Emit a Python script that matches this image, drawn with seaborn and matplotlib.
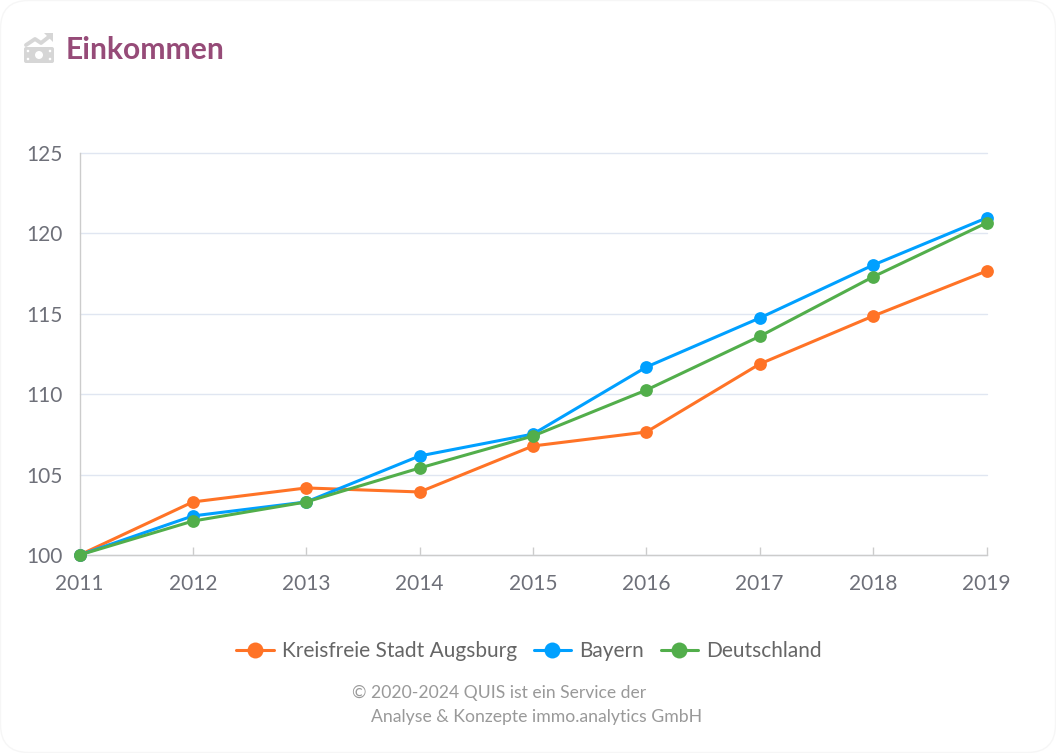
#!/usr/bin/env python3
import matplotlib
matplotlib.use('Agg')

import matplotlib.patches as patches
import matplotlib.pyplot as plt
import pandas as pd
import seaborn as sns

years = [2011, 2012, 2013, 2014, 2015, 2016, 2017, 2018, 2019]
augsburg = [100, 103.3, 104.17, 103.92, 106.78, 107.65, 111.88, 114.86, 117.66]
bayern = [100, 102.43, 103.3, 106.16, 107.52, 111.69, 114.74, 118.03, 120.96]
deutschland = [100, 102.11, 103.3, 105.41, 107.4, 110.26, 113.6, 117.3, 120.65]

series_names = ['Kreisfreie Stadt Augsburg', 'Bayern', 'Deutschland']
series_colors = ['#FF7326', '#00A0FF', '#52AE4B']
y_ticks = [100, 105, 110, 115, 120, 125]

W, H = 1056, 753

sns.set_theme(style='white')
plt.rcParams['font.family'] = ['Lato', 'DejaVu Sans']

# long table for seaborn
df = pd.DataFrame({
	'year': years * 3,
	'value': augsburg + bayern + deutschland,
	'series': [n for n in series_names for _ in years],
})

fig = plt.figure(figsize=(W / 100, H / 100), dpi=100, facecolor='white')

# faint outline of the round card
fig.add_artist(patches.FancyBboxPatch(
	(26, 26), W - 52, H - 52,
	boxstyle='round,pad=25.5,rounding_size=28', transform=None,
	facecolor='white', edgecolor='#F6F6F6', linewidth=1, zorder=-1))

ax = fig.add_axes([79.5 / W, 1 - 555 / H, 907 / W, 402 / H])
ax.patch.set_alpha(0)

sns.lineplot(
	data=df, x='year', y='value', hue='series',
	hue_order=series_names, palette=series_colors,
	marker='o', markersize=9.2, markeredgewidth=0, linewidth=2.2,
	clip_on=False, ax=ax, zorder=3)

ax.set_xlim(2011, 2019)
ax.set_ylim(100, 125)
ax.set_xticks(years)
ax.set_yticks(y_ticks)
ax.set_xlabel('')
ax.set_ylabel('')
ax.grid(axis='y', color='#E0E6F1', linewidth=1, clip_on=False)
ax.set_axisbelow(True)

for side in ['top', 'right']:
	ax.spines[side].set_visible(False)
for side in ['left', 'bottom']:
	ax.spines[side].set_color('#CCCCCC')
	ax.spines[side].set_linewidth(1)

ax.tick_params(axis='x', direction='in', length=6, width=1, color='#CCCCCC',
	labelsize=15, labelcolor='#6E7079', pad=13.5, bottom=True)
ax.tick_params(axis='y', left=False, labelsize=15, labelcolor='#6E7079', pad=6)

# legend under the plot
handles, labels = ax.get_legend_handles_labels()
leg = ax.legend(
	handles, labels, ncol=3, frameon=False, loc='center',
	bbox_to_anchor=(529 / W, 1 - 651 / H), bbox_transform=fig.transFigure,
	fontsize=15, labelcolor='#666666', columnspacing=0.8, handlelength=1.78,
	handletextpad=0.4, borderpad=0)
for h in leg.legend_handles:
	h.set_markersize(11.5)

# title and icon
fig.text(66 / W, 1 - 50 / H, 'Einkommen', fontsize=21.6, fontweight='bold',
	color='#964B78', va='center', ha='left')

icon = '#D6D6D6'
fig.add_artist(patches.FancyBboxPatch(
	(24, H - 63), 30, 16, boxstyle='round,pad=0,rounding_size=2', transform=None,
	facecolor=icon, edgecolor='none'))
for cx, cy, r in [(39, 55, 4), (28, 51, 1.3), (50, 51, 1.3), (28, 59, 1.3), (50, 59, 1.3)]:
	fig.add_artist(patches.Circle(
		(cx, H - cy), r, transform=None, facecolor='white', edgecolor='none'))
fig.add_artist(plt.Line2D(
	[26, 35, 41, 50], [H - 45, H - 39, H - 43, H - 36],
	transform=None, color=icon, linewidth=2.8))
fig.add_artist(patches.Polygon(
	[(44, H - 33), (53, H - 33), (53, H - 42)],
	transform=None, facecolor=icon, edgecolor='none'))

# footer
fig.text(351 / W, 1 - 693 / H, '©', fontsize=12.6, color='#999999', va='center')
fig.text(371 / W, 1 - 693 / H, '2020-2024 QUIS ist ein Service der', fontsize=12.65,
	color='#999999', va='center')
fig.text(371 / W, 1 - 717 / H, 'Analyse & Konzepte immo.analytics GmbH', fontsize=12.7,
	color='#999999', va='center')

fig.savefig('out.png', dpi=100, facecolor=fig.get_facecolor())
